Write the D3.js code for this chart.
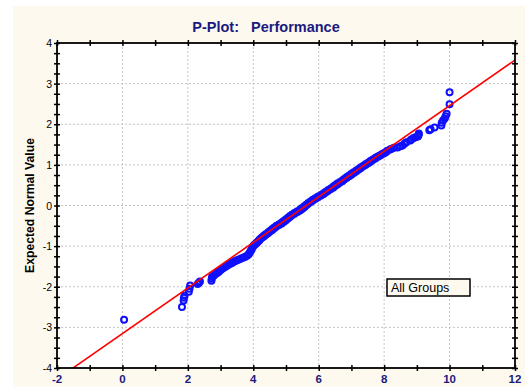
<!DOCTYPE html>
<html>
<head>
<meta charset="utf-8">
<script src="https://cdn.jsdelivr.net/npm/d3@7"></script>
<style>
  body { margin: 0; background: #fff; }
  svg { display: block; font-family: "Liberation Sans", Arial, sans-serif; }
</style>
</head>
<body>
<svg id="pplot" width="525" height="387"></svg>
<script>
// [observed value, expected normal value], lower tail
const lowerTail = [
  [0.05, -2.81], [1.82, -2.5], [1.87, -2.34], [1.88, -2.27], [1.9, -2.22],
  [2.03, -2.12], [2.05, -2.05], [2.07, -1.97], [2.3, -1.93], [2.34, -1.9], [2.37, -1.87],
  [2.72, -1.85], [2.73, -1.8], [2.74, -1.76], [2.8, -1.72], [2.86, -1.68], [2.92, -1.65],
  [2.96, -1.62], [3.0, -1.59], [3.04, -1.56], [3.1, -1.53], [3.16, -1.5], [3.22, -1.47],
  [3.28, -1.44], [3.33, -1.42], [3.37, -1.4], [3.42, -1.38], [3.47, -1.36], [3.52, -1.34],
  [3.58, -1.32], [3.64, -1.3], [3.7, -1.28], [3.76, -1.26], [3.82, -1.23], [3.86, -1.2],
  [3.89, -1.16], [3.92, -1.12], [3.95, -1.08], [3.97, -1.04]
];
// central part of the sample
const centerBand = [
  [4.0, -1.0], [4.02, -0.98], [4.05, -0.96], [4.08, -0.94], [4.1, -0.92], [4.13, -0.9],
  [4.15, -0.88], [4.18, -0.86], [4.19, -0.84], [4.22, -0.82], [4.25, -0.8], [4.27, -0.78],
  [4.32, -0.76], [4.33, -0.74], [4.38, -0.72], [4.39, -0.7], [4.45, -0.68], [4.46, -0.66],
  [4.51, -0.64], [4.52, -0.62], [4.58, -0.6], [4.58, -0.58], [4.64, -0.56], [4.64, -0.54],
  [4.7, -0.52], [4.71, -0.5], [4.79, -0.48], [4.79, -0.46], [4.87, -0.44], [4.87, -0.42],
  [4.94, -0.4], [4.93, -0.38], [5.0, -0.36], [5.0, -0.34], [5.06, -0.32], [5.06, -0.3],
  [5.12, -0.28], [5.12, -0.26], [5.18, -0.24], [5.19, -0.22], [5.26, -0.2], [5.27, -0.18],
  [5.35, -0.16], [5.35, -0.14], [5.43, -0.12], [5.43, -0.1], [5.5, -0.08], [5.49, -0.06],
  [5.56, -0.04], [5.56, -0.02], [5.61, 0.0], [5.62, 0.02], [5.67, 0.04], [5.68, 0.06],
  [5.74, 0.08], [5.75, 0.1], [5.81, 0.12], [5.82, 0.14], [5.89, 0.16], [5.9, 0.18],
  [5.97, 0.2], [5.98, 0.22], [6.06, 0.24], [6.07, 0.26], [6.14, 0.28], [6.15, 0.3],
  [6.21, 0.32], [6.22, 0.34], [6.28, 0.36], [6.29, 0.38], [6.36, 0.4], [6.37, 0.42],
  [6.44, 0.44], [6.44, 0.46], [6.5, 0.48], [6.5, 0.5], [6.57, 0.52], [6.57, 0.54],
  [6.64, 0.56], [6.65, 0.58], [6.72, 0.6], [6.73, 0.62], [6.78, 0.64], [6.79, 0.66],
  [6.85, 0.68], [6.86, 0.7], [6.93, 0.72], [6.93, 0.74], [7.0, 0.76], [7.0, 0.78],
  [7.07, 0.8], [7.07, 0.82], [7.14, 0.84], [7.15, 0.86], [7.21, 0.88], [7.22, 0.9],
  [7.28, 0.92], [7.29, 0.94], [7.35, 0.96], [7.37, 0.98], [7.43, 1.0], [7.44, 1.02],
  [7.51, 1.04], [7.52, 1.06], [7.58, 1.08], [7.59, 1.1], [7.65, 1.12], [7.67, 1.14],
  [7.73, 1.16], [7.75, 1.18], [7.81, 1.2], [7.84, 1.22], [7.89, 1.24], [7.93, 1.26],
  [7.98, 1.28], [8.02, 1.3]
];
// upper tail
const upperTail = [
  [8.06, 1.32], [8.1, 1.35], [8.18, 1.38], [8.23, 1.4], [8.3, 1.42], [8.41, 1.43],
  [8.5, 1.46], [8.56, 1.48], [8.62, 1.52], [8.68, 1.56], [8.8, 1.6], [8.84, 1.63],
  [8.9, 1.66], [8.96, 1.68], [9.03, 1.7], [9.04, 1.72], [9.06, 1.75], [9.06, 1.77],
  [9.38, 1.85], [9.42, 1.88], [9.54, 1.92], [9.75, 1.97], [9.76, 2.04], [9.8, 2.09],
  [9.85, 2.14], [9.88, 2.2], [9.91, 2.26], [10.0, 2.49], [10.0, 2.79]
];
// fitted reference line: y = slope * x + intercept
const lineSlope = 0.561;
const lineIntercept = -3.153;

const xTicks = [-2, 0, 2, 4, 6, 8, 10, 12];
const yTicks = [-4, -3, -2, -1, 0, 1, 2, 3, 4];
const titleText = "P-Plot:   Performance";
const yLabel = "Expected Normal Value";
const legendText = "All Groups";

const svg = d3.select('#pplot');
const m = {left: 57, top: 43, right: 515, bottom: 368};

// cream panel
svg.append('rect').attr('x', 13).attr('y', 6).attr('width', 512).attr('height', 381)
  .attr('fill', '#fdf9ee');

const x = d3.scaleLinear().domain([-2, 12]).range([m.left, m.right]);
const y = d3.scaleLinear().domain([-4, 4]).range([m.bottom, m.top]);

svg.append('rect').attr('x', m.left).attr('y', m.top)
  .attr('width', m.right - m.left).attr('height', m.bottom - m.top).attr('fill', '#fff');

// grid
const grid = svg.append('g').attr('stroke', '#c4c4c4').attr('stroke-dasharray', '2,2');
grid.selectAll('line.gx').data(xTicks.slice(1, -1)).enter().append('line')
  .attr('x1', d => x(d)).attr('x2', d => x(d)).attr('y1', m.top).attr('y2', m.bottom);
grid.selectAll('line.gy').data(yTicks.slice(1, -1)).enter().append('line')
  .attr('y1', d => y(d)).attr('y2', d => y(d)).attr('x1', m.left).attr('x2', m.right);

// clip
svg.append('clipPath').attr('id', 'clip').append('rect')
  .attr('x', m.left).attr('y', m.top).attr('width', m.right - m.left).attr('height', m.bottom - m.top);

const pts = lowerTail.concat(centerBand, upperTail);
const plot = svg.append('g').attr('clip-path', 'url(#clip)');

plot.selectAll('circle').data(pts).enter().append('circle')
  .attr('cx', d => x(d[0])).attr('cy', d => y(d[1])).attr('r', 3)
  .attr('fill', 'none').attr('stroke', '#1010ff').attr('stroke-width', 2);

const lineGen = d3.line().x(d => x(d)).y(d => y(lineSlope * d + lineIntercept));
plot.append('path').datum([-2, 12]).attr('d', lineGen)
  .attr('fill', 'none').attr('stroke', '#ff0000').attr('stroke-width', 1.6);

// axes with minor ticks on all sides
const minorX = d3.range(-2, 12.01, 1);
const minorY = d3.range(-4, 4.01, 0.25);
const frame = svg.append('g');
frame.append('g').attr('transform', `translate(0,${m.bottom})`)
  .call(d3.axisBottom(x).tickValues(minorX).tickSize(3).tickFormat(''));
frame.append('g').attr('transform', `translate(0,${m.top})`)
  .call(d3.axisTop(x).tickValues(minorX).tickSize(3).tickFormat(''));
frame.append('g').attr('transform', `translate(${m.left},0)`)
  .call(d3.axisLeft(y).tickValues(minorY).tickSize(3).tickFormat(''));
frame.append('g').attr('transform', `translate(${m.right},0)`)
  .call(d3.axisRight(y).tickValues(minorY).tickSize(3).tickFormat(''));
frame.selectAll('.domain').remove();
frame.selectAll('.tick line').attr('stroke', '#000').attr('stroke-width', 1.5)
  .each(function() {
    const l = d3.select(this);
    if (l.attr('y2')) l.attr('y1', -l.attr('y2'));
    if (l.attr('x2')) l.attr('x1', -l.attr('x2'));
  });
svg.append('rect').attr('x', m.left).attr('y', m.top)
  .attr('width', m.right - m.left).attr('height', m.bottom - m.top)
  .attr('fill', 'none').attr('stroke', '#000').attr('stroke-width', 1.8);

// tick labels
svg.append('g').selectAll('text').data(xTicks).enter().append('text')
  .attr('x', d => x(d)).attr('y', m.bottom + 15).attr('text-anchor', 'middle')
  .attr('font-size', 11.5).attr('font-weight', 'bold').attr('fill', '#1a1a80')
  .text(d => d);
svg.append('g').selectAll('text').data(yTicks).enter().append('text')
  .attr('x', m.left - 5).attr('y', d => y(d) + 4).attr('text-anchor', 'end')
  .attr('font-size', 10.5).attr('fill', '#000')
  .text(d => d);

// title and axis label
svg.append('text').attr('x', 266).attr('y', 32).attr('text-anchor', 'middle')
  .style('white-space', 'pre')
  .attr('font-size', 14.5).attr('font-weight', 'bold').attr('fill', '#1a1a80')
  .text(titleText);
svg.append('text').attr('transform', `translate(34,${(m.top + m.bottom) / 2}) rotate(-90)`)
  .attr('text-anchor', 'middle').attr('font-size', 12.2).attr('font-weight', 'bold')
  .attr('fill', '#000').text(yLabel);

// legend
const lg = svg.append('g');
lg.append('rect').attr('x', 387).attr('y', 279).attr('width', 83).attr('height', 17)
  .attr('fill', '#fdf9ee').attr('stroke', '#000').attr('stroke-width', 1.5);
lg.append('text').attr('x', 391).attr('y', 292).attr('font-size', 12.5).attr('fill', '#000')
  .text(legendText);
</script>
</body>
</html>
